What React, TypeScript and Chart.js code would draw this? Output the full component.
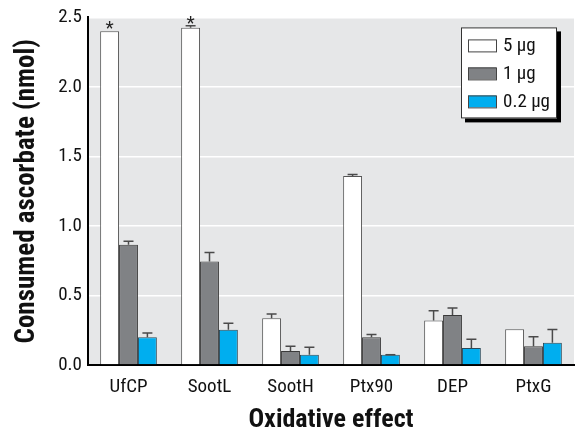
import React, { useEffect, useRef } from "react";
import { Chart, registerables } from "chart.js";

Chart.register(...registerables);

const categories = ["UfCP", "SootL", "SootH", "Ptx90", "DEP", "PtxG"];
const seriesLabels = ["5 µg", "1 µg", "0.2 µg"];
const values5 = [2.4, 2.425, 0.337, 1.36, 0.32, 0.258];
const values1 = [0.865, 0.745, 0.1, 0.2, 0.36, 0.134];
const values02 = [0.2, 0.253, 0.074, 0.074, 0.122, 0.16];
const errTop5 = [null, 2.44, 0.366, 1.37, 0.39, null];
const errTop1 = [0.89, 0.81, 0.134, 0.22, 0.41, 0.203];
const errTop02 = [0.23, 0.3, 0.127, 0.074, 0.186, 0.256];
const significant5 = [true, true, false, false, false, false];
const yTicks = [0, 0.5, 1.0, 1.5, 2.0, 2.5];

const FONT = "'Roboto Condensed', 'DejaVu Sans Condensed', sans-serif";
const colors = ["#ffffff", "#808285", "#00aeef"];
const borders = ["#555555", "#3a3a3a", "#2a4a5a"];

export default function App() {
  const ref = useRef<HTMLCanvasElement | null>(null);

  useEffect(() => {
    document.body.style.margin = "0";
    const canvas = ref.current;
    if (!canvas) return;
    const errs = [errTop5, errTop1, errTop02];

    const bgPlugin = {
      id: "bg",
      beforeDraw(chart: any) {
        const { ctx, chartArea: a } = chart;
        ctx.save();
        ctx.fillStyle = "#e6e7e8";
        ctx.fillRect(a.left, a.top, a.right - a.left, a.bottom - a.top);
        ctx.restore();
      },
    };

    const errPlugin = {
      id: "err",
      afterDatasetsDraw(chart: any) {
        const { ctx } = chart;
        const y = chart.scales.y;
        ctx.save();
        ctx.strokeStyle = "#4a4a4a";
        ctx.lineWidth = 1.5;
        chart.data.datasets.forEach((ds: any, di: number) => {
          const meta = chart.getDatasetMeta(di);
          meta.data.forEach((bar: any, i: number) => {
            const e = errs[di][i];
            if (e == null) return;
            const yt = y.getPixelForValue(e);
            ctx.beginPath();
            ctx.moveTo(bar.x, bar.y);
            ctx.lineTo(bar.x, yt);
            ctx.moveTo(bar.x - 5, yt);
            ctx.lineTo(bar.x + 5, yt);
            ctx.stroke();
          });
        });
        const meta0 = chart.getDatasetMeta(0);
        ctx.fillStyle = "#222";
        ctx.font = `19px ${FONT}`;
        ctx.textAlign = "center";
        ctx.textBaseline = "alphabetic";
        meta0.data.forEach((bar: any, i: number) => {
          if (!significant5[i]) return;
          const top = errTop5[i] != null ? y.getPixelForValue(errTop5[i]) : bar.y;
          ctx.fillText("*", bar.x, top + 3);
        });
        ctx.restore();
      },
    };

    const legendPlugin = {
      id: "customLegend",
      afterDraw(chart: any) {
        const { ctx, chartArea: a } = chart;
        const right = a.right - 17;
        const left = right - 96;
        const top = a.top + 10;
        const h = 91;
        ctx.save();
        ctx.fillStyle = "#000";
        ctx.fillRect(left + 4, top + 4, 96, h);
        ctx.fillStyle = "#fff";
        ctx.fillRect(left, top, 96, h);
        ctx.strokeStyle = "#333";
        ctx.lineWidth = 1;
        ctx.strokeRect(left + 0.5, top + 0.5, 95, h - 1);
        ctx.font = `19px ${FONT}`;
        ctx.textBaseline = "middle";
        ctx.textAlign = "left";
        seriesLabels.forEach((lab, i) => {
          const cy = top + 18 + i * 28;
          ctx.fillStyle = colors[i];
          ctx.fillRect(left + 7, cy - 6, 28, 12);
          ctx.strokeStyle = "#444";
          ctx.strokeRect(left + 7.5, cy - 5.5, 28, 12);
          ctx.fillStyle = "#111";
          ctx.fillText(lab, left + 42, cy + 1);
        });
        ctx.restore();
      },
    };

    const chart = new Chart(canvas, {
      type: "bar",
      data: {
        labels: categories,
        datasets: [values5, values1, values02].map((d, i) => ({
          label: seriesLabels[i],
          data: d,
          backgroundColor: colors[i],
          borderColor: borders[i],
          borderWidth: 1,
          barPercentage: 1,
          categoryPercentage: 0.7,
        })),
      },
      options: {
        responsive: false,
        animation: false,
        layout: { padding: { left: 0, right: 4, top: 16, bottom: 0 } },
        plugins: { legend: { display: false }, tooltip: { enabled: false } },
        scales: {
          x: {
            grid: { display: false },
            border: { display: true, color: "#000", width: 2 },
            ticks: { color: "#111", font: { family: FONT, size: 19 }, padding: 3 },
            title: {
              display: true,
              text: "Oxidative effect",
              color: "#111",
              font: { family: FONT, size: 26, weight: "bold", lineHeight: 1 },
              padding: { top: 0, bottom: 4 },
            },
            afterFit(scale: any) {
              scale.height = 72;
            },
          },
          y: {
            min: 0,
            max: 2.5,
            afterBuildTicks(scale: any) {
              scale.ticks = yTicks.map((v) => ({ value: v }));
            },
            grid: { color: "#ffffff", lineWidth: 1.5, drawTicks: false },
            border: { display: true, color: "#000", width: 2 },
            ticks: {
              color: "#111",
              font: { family: FONT, size: 19 },
              padding: 6,
              callback: (v: any) => Number(v).toFixed(1),
            },
            title: {
              display: true,
              text: "Consumed ascorbate (nmol)",
              color: "#111",
              font: { family: FONT, size: 27, weight: "bold", lineHeight: 1 },
              padding: { top: 14, bottom: 0 },
            },
            afterFit(scale: any) {
              scale.width = 88;
            },
          },
        },
      },
      plugins: [bgPlugin, errPlugin, legendPlugin],
    });
    return () => chart.destroy();
  }, []);

  return (
    <div style={{ width: 578, height: 437 }}>
      <canvas ref={ref} width={578} height={437} />
    </div>
  );
}
